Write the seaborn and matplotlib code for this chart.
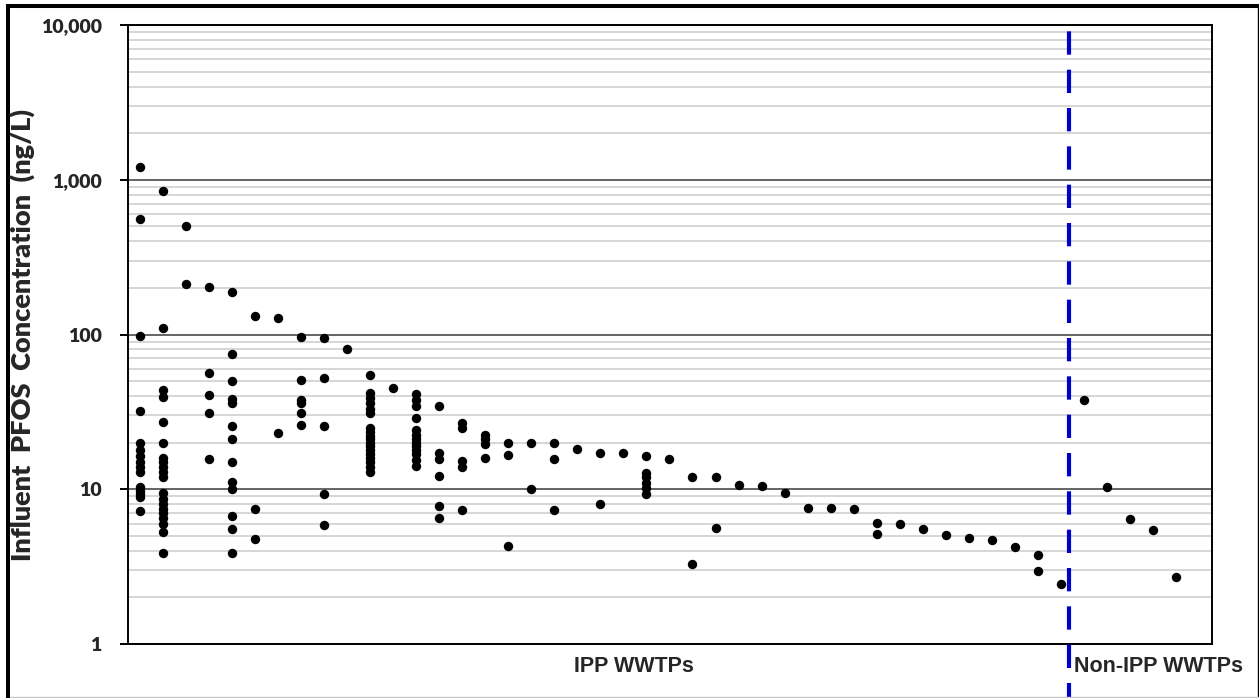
import numpy as np
import pandas as pd
import seaborn as sns
import matplotlib
matplotlib.use("Agg")
import matplotlib.pyplot as plt
from matplotlib.lines import Line2D
from matplotlib.ticker import LogLocator, NullFormatter, FixedLocator, FixedFormatter

# Influent PFOS (ng/L) per wastewater treatment plant, one list per plant
ipp_readings = [
    [1200, 560, 98, 32, 20, 18, 16.5, 15, 14, 13, 10.3, 9.8, 9.3, 8.9, 7.2],
    [850, 110, 43.5, 39.6, 27, 20, 16, 15, 14, 13, 12, 9.5, 8.7, 8, 7.5, 7, 6.5, 6, 5.3, 3.9],
    [500, 212],
    [204, 56, 40.5, 31, 15.8],
    [189, 75, 50, 38.2, 36.3, 25.6, 21, 15, 11.2, 10.1, 6.75, 5.5, 3.9],
    [131, 7.5, 4.75],
    [127, 23.2],
    [96, 51, 38, 36, 31, 26],
    [95, 52.6, 25.6, 9.3, 5.87],
    [80.5],
    [55, 41.7, 38.6, 35.9, 33.2, 30.9, 25, 23.5, 22, 21, 20, 19, 18, 17, 16, 15, 14, 13],
    [44.9],
    [41, 38, 34.7, 28.7, 24, 22.5, 21, 20, 19, 18, 17, 15.5, 14.2],
    [34.5, 17.1, 15.8, 12.1, 7.8, 6.5],
    [26.7, 24.8, 15.2, 14, 7.35],
    [22.5, 21, 19.5, 16],
    [19.8, 16.6, 4.3],
    [19.8, 9.97],
    [19.8, 15.8, 7.35],
    [18.3],
    [17.1, 7.97],
    [17.1],
    [16.5, 12.8, 12, 11, 10.2, 9.3],
    [15.7],
    [12.0, 3.29],
    [12.0, 5.64],
    [10.6],
    [10.5],
    [9.5],
    [7.6],
    [7.55],
    [7.44],
    [6.02, 5.16],
    [5.97],
    [5.5],
    [5.03],
    [4.86],
    [4.7],
    [4.23],
    [3.77, 2.97],
    [2.45],
]
non_ipp_readings = [37.7, 10.36, 6.38, 5.45, 2.71]

y_ticks = [1, 10, 100, 1000, 10000]
y_tick_labels = ["1", "10", "100", "1,000", "10,000"]
group_labels = ["IPP WWTPs", "Non-IPP WWTPs"]
y_title = "Influent  PFOS  Concentration  (ng/L)"

rows = []
for i, vals in enumerate(ipp_readings):
    for v in vals:
        rows.append((i, v, "IPP"))
for j, v in enumerate(non_ipp_readings):
    rows.append((len(ipp_readings) + j, v, "Non-IPP"))
df = pd.DataFrame(rows, columns=["plant", "conc", "group"])

sns.set_style("white")
plt.rcParams["font.family"] = ["Lato", "DejaVu Sans"]

W, H = 1259, 698
fig = plt.figure(figsize=(W / 100, H / 100), dpi=100)
left, right, top, bottom = 128, 1212, 25, 644
ax = fig.add_axes([left / W, 1 - bottom / H, (right - left) / W, (bottom - top) / H])

sns.scatterplot(data=df, x="plant", y="conc", color="black", s=46, linewidth=0,
                ax=ax, legend=False, zorder=3)

ax.set_yscale("log")
ax.set_ylim(1, 10000)
ax.set_xlim(-0.5, 46.55)
ax.yaxis.set_major_locator(FixedLocator(y_ticks))
ax.yaxis.set_major_formatter(FixedFormatter(y_tick_labels))
ax.yaxis.set_minor_locator(LogLocator(base=10, subs=np.arange(2, 10)))
ax.yaxis.set_minor_formatter(NullFormatter())
ax.set_xticks([])
ax.set_xlabel("")
ax.set_ylabel("")

ax.grid(which="major", axis="y", color="#3a3a3a", lw=1.1)
ax.grid(which="minor", axis="y", color="#cccccc", lw=1.1)
ax.grid(which="both", axis="x", visible=False)
ax.set_axisbelow(True)

for sp in ax.spines.values():
    sp.set_color("black")
    sp.set_linewidth(1.4)
    sp.set_visible(True)

ax.tick_params(axis="y", which="major", length=6, width=1.4, pad=13,
               direction="out", labelsize=14, color="black", left=True)
ax.tick_params(axis="y", which="minor", length=0)
for lab in ax.get_yticklabels():
    lab.set_fontweight("heavy")

# divider between IPP and non-IPP plants
ax.axvline(40.36, ymin=-0.088, ymax=1.0, color="#0000CC", lw=3,
           ls=(2, (5.6, 3.6)), clip_on=False, zorder=4)

fig.text(22 / W, 1 - 335 / H, y_title, rotation=90, ha="center", va="center",
         fontsize=19.5, fontweight="heavy")
fig.text(634 / W, 1 - 667 / H, group_labels[0], ha="center", va="center",
         fontsize=15.5, fontweight="bold", family="Liberation Sans")
fig.text(1074 / W, 1 - 667 / H, group_labels[1], ha="left", va="center",
         fontsize=15.5, fontweight="bold", family="Liberation Sans")

# outer frame
def px_line(x0, y0, x1, y1, lw, color):
    fig.add_artist(Line2D([x0 / W, x1 / W], [1 - y0 / H, 1 - y1 / H],
                          transform=fig.transFigure, lw=lw, color=color,
                          solid_capstyle="butt"))

px_line(8, 4, 8, H, 2.9, "black")
px_line(6, 6, W, 6, 2.9, "black")
px_line(W - 1, 6, W - 1, H, 1.0, "black")
px_line(10, H - 1.5, W, H - 1.5, 1.0, "#c8c8c8")

fig.savefig("out.png", dpi=100)
